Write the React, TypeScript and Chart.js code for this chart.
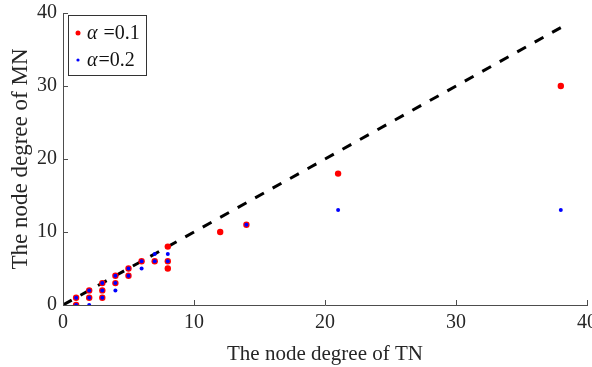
import React, { useEffect, useRef } from "react";
import { Chart, registerables } from "chart.js";

Chart.register(...registerables);

const alpha1X = [1, 1, 2, 2, 3, 3, 3, 4, 4, 5, 5, 6, 7, 8, 8, 8, 12, 14, 21, 38];
const alpha1Y = [1, 0, 2, 1, 3, 2, 1, 4, 3, 5, 4, 6, 6, 8, 6, 5, 10, 11, 18, 30];
const alpha2X = [1, 1, 2, 2, 2, 3, 3, 3, 4, 4, 4, 5, 5, 6, 6, 7, 7, 8, 8, 14, 21, 38];
const alpha2Y = [1, 0, 2, 1, 0, 3, 2, 1, 4, 3, 2, 5, 4, 6, 5, 7, 6, 7, 6, 11, 13, 13];
const refLineX = [0, 38];
const refLineY = [0, 38];
const tickValues = [0, 10, 20, 30, 40];
const legendLabels = ["=0.1", "=0.2"];
const xTitle = "The node degree of TN";
const yTitle = "The node degree of MN";

const FONT = "'Liberation Serif', 'Times New Roman', serif";
const AXIS_COLOR = "#4d4d4d";

const zip = (xs: number[], ys: number[]) => xs.map((x, i) => ({ x, y: ys[i] }));

const innerTicks = {
  id: "innerTicks",
  afterDraw(chart: any) {
    const ctx = chart.ctx;
    const { left, bottom } = chart.chartArea;
    const xs = chart.scales.x;
    const ys = chart.scales.y;
    ctx.save();
    ctx.strokeStyle = AXIS_COLOR;
    ctx.lineWidth = 1;
    ctx.beginPath();
    tickValues.forEach((v) => {
      const px = Math.round(xs.getPixelForValue(v)) + 0.5;
      ctx.moveTo(px, bottom);
      ctx.lineTo(px, bottom - 5);
      const py = Math.round(ys.getPixelForValue(v)) + 0.5;
      ctx.moveTo(left, py);
      ctx.lineTo(left + 5, py);
    });
    ctx.stroke();
    ctx.restore();
  },
};

const boxLegend = {
  id: "boxLegend",
  afterDraw(chart: any) {
    const ctx = chart.ctx;
    const x0 = 68.5, y0 = 15.5, w = 78, h = 60;
    ctx.save();
    ctx.fillStyle = "#ffffff";
    ctx.fillRect(x0, y0, w, h);
    ctx.strokeStyle = "#333333";
    ctx.lineWidth = 1;
    ctx.strokeRect(x0, y0, w, h);
    const rows = [
      { color: "#ff0000", r: 2.5, y: 34, label: " " + legendLabels[0] },
      { color: "#0000ff", r: 1.6, y: 61, label: legendLabels[1] },
    ];
    rows.forEach((row) => {
      ctx.fillStyle = row.color;
      ctx.beginPath();
      ctx.arc(78, row.y - 1, row.r, 0, Math.PI * 2);
      ctx.fill();
      ctx.fillStyle = "#111111";
      ctx.textBaseline = "middle";
      ctx.textAlign = "left";
      ctx.font = `italic 20px ${FONT}`;
      ctx.fillText("α", 87, row.y);
      const aw = ctx.measureText("α").width;
      ctx.font = `20px ${FONT}`;
      ctx.fillText(row.label, 87 + aw + 1, row.y);
    });
    ctx.restore();
  },
};

export default function App() {
  const ref = useRef<HTMLCanvasElement | null>(null);
  useEffect(() => {
    if (!ref.current) return;
    const chart = new Chart(ref.current, {
      type: "scatter",
      data: {
        datasets: [
          {
            label: "alpha=0.2",
            data: zip(alpha2X, alpha2Y),
            backgroundColor: "#0000ff",
            borderColor: "#0000ff",
            pointRadius: 2,
            borderWidth: 0,
          },
          {
            label: "alpha=0.1",
            data: zip(alpha1X, alpha1Y),
            backgroundColor: "#ff0000",
            borderColor: "#ff0000",
            pointRadius: 3.2,
            borderWidth: 0,
          },
          {
            label: "ref",
            type: "line",
            data: zip(refLineX, refLineY),
            borderColor: "#000000",
            borderWidth: 3,
            borderDash: [10, 10],
            pointRadius: 0,
            showLine: true,
            fill: false,
          } as any,
        ],
      },
      options: {
        animation: false,
        responsive: false,
        devicePixelRatio: 1,
        layout: { padding: { left: 0, right: 5, top: 13, bottom: 0 } },
        plugins: { legend: { display: false }, tooltip: { enabled: false } },
        scales: {
          x: {
            type: "linear",
            min: 0,
            max: 40,
            grid: { display: false, drawTicks: false },
            border: { display: true, color: AXIS_COLOR, width: 1 },
            ticks: {
              stepSize: 10,
              color: "#262626",
              font: { family: FONT, size: 20 },
              padding: 6,
              maxRotation: 0,
              autoSkip: false,
            },
            title: {
              display: true,
              text: xTitle,
              color: "#262626",
              font: { family: FONT, size: 21 },
              padding: { top: 3, bottom: 0 },
            },
            afterFit(scale: any) {
              scale.height = 62;
              scale.paddingLeft = 0;
              scale.paddingRight = 0;
            },
          },
          y: {
            type: "linear",
            min: 0,
            max: 40,
            grid: { display: false, drawTicks: false },
            border: { display: true, color: AXIS_COLOR, width: 1 },
            ticks: {
              stepSize: 10,
              color: "#262626",
              font: { family: FONT, size: 20 },
              padding: 6,
            },
            title: {
              display: true,
              text: yTitle,
              color: "#262626",
              font: { family: FONT, size: 23 },
              padding: { top: 7, bottom: 0 },
            },
            afterFit(scale: any) {
              scale.width = 63;
              scale.paddingTop = 0;
              scale.paddingBottom = 0;
            },
          },
        },
      },
      plugins: [innerTicks, boxLegend],
    });
    return () => chart.destroy();
  }, []);
  return (
    <div style={{ position: "absolute", left: 0, top: 0, width: 592, height: 367, background: "#fff" }}>
      <canvas ref={ref} width={592} height={367} />
    </div>
  );
}
